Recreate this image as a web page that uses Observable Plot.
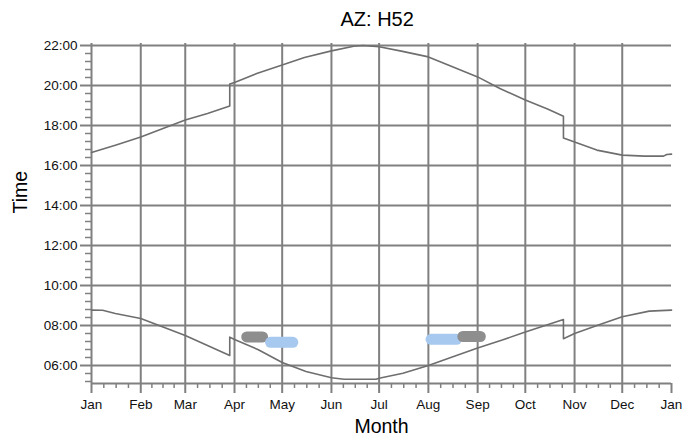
<!DOCTYPE html>
<html>
<head>
<meta charset="utf-8">
<script src="https://cdn.jsdelivr.net/npm/d3@7"></script>
<script src="https://cdn.jsdelivr.net/npm/@observablehq/plot@0.6"></script>
<style>
  html, body { margin: 0; padding: 0; background: #fff; }
  #chart svg { display: block; }
</style>
</head>
<body>
<div id="chart"></div>
<script>
// ---- data ----
const title = "AZ: H52";
const xLabel = "Month";
const yLabel = "Time";
const monthLabels = ["Jan","Feb","Mar","Apr","May","Jun","Jul","Aug","Sep","Oct","Nov","Dec","Jan"];
const monthStarts = ["2015-01-01","2015-02-01","2015-03-01","2015-04-01","2015-05-01","2015-06-01",
                     "2015-07-01","2015-08-01","2015-09-01","2015-10-01","2015-11-01","2015-12-01","2016-01-01"];
const hourTicks = [6, 8, 10, 12, 14, 16, 18, 20, 22];

const sunsetDates = ["2015-01-01","2015-01-16","2015-02-01","2015-02-15","2015-03-01","2015-03-15","2015-03-29","2015-03-29",
  "2015-04-01","2015-04-15","2015-05-01","2015-05-15","2015-06-01","2015-06-15","2015-06-21","2015-07-01","2015-07-15",
  "2015-08-01","2015-08-15","2015-09-01","2015-09-15","2015-10-01","2015-10-15","2015-10-25","2015-10-25","2015-11-01",
  "2015-11-15","2015-12-01","2015-12-15","2015-12-27","2015-12-29","2016-01-01"];
const sunsetTimes = [16.65,17.01,17.42,17.85,18.27,18.6,18.98,20.08,
  20.15,20.6,21.02,21.4,21.73,21.96,22.0,21.94,21.72,
  21.43,20.97,20.43,19.85,19.27,18.82,18.46,17.38,17.18,
  16.77,16.52,16.47,16.47,16.55,16.57];

const sunriseDates = ["2015-01-01","2015-01-08","2015-01-16","2015-02-01","2015-02-15","2015-03-01","2015-03-15","2015-03-29","2015-03-29",
  "2015-04-01","2015-04-16","2015-05-01","2015-05-16","2015-06-01","2015-06-09","2015-06-29","2015-07-01","2015-07-16",
  "2015-08-01","2015-08-16","2015-09-01","2015-09-16","2015-10-01","2015-10-25","2015-10-25","2015-11-01","2015-11-16",
  "2015-12-01","2015-12-18","2016-01-01"];
const sunriseTimes = [8.77,8.76,8.6,8.35,7.93,7.5,7.0,6.5,7.42,
  7.3,6.79,6.15,5.7,5.39,5.31,5.31,5.36,5.61,
  6.0,6.42,6.87,7.26,7.68,8.3,7.34,7.6,8.02,
  8.44,8.72,8.77];

const blobStart  = ["2015-04-09","2015-04-24","2015-08-03","2015-08-23"];
const blobEnd    = ["2015-04-19","2015-05-08","2015-08-19","2015-09-03"];
const blobTime   = [7.43, 7.16, 7.31, 7.45];
const blobSeries = ["A", "B", "B", "A"];

// ---- build tables ----
const parse = s => new Date(s + "T00:00:00Z");
const monthDates = monthStarts.map(parse);
const labelByTime = new Map(monthDates.map((d, i) => [+d, monthLabels[i]]));
const sunset = sunsetDates.map((d, i) => ({date: parse(d), time: sunsetTimes[i]}));
const sunrise = sunriseDates.map((d, i) => ({date: parse(d), time: sunriseTimes[i]}));
const blobs = blobStart.map((d, i) => ({start: parse(d), end: parse(blobEnd[i]), time: blobTime[i], series: blobSeries[i]}));

const x0 = monthDates[0], x1 = monthDates[12];
const yMin = 5.1, yMax = 22.1;

// minor ticks: quarter months on x, 24-minute steps on y
const minorX = [];
for (let i = 0; i < 12; i++) {
  const a = +monthDates[i], b = +monthDates[i + 1];
  for (let q = 1; q <= 3; q++) minorX.push(new Date(a + (b - a) * q / 4));
}
const minorY = [];
for (let k = 1; 22 - 0.4 * k > yMin; k++) if (k % 5 !== 0) minorY.push(22 - 0.4 * k);

const fmtHour = h => String(h).padStart(2, "0") + ":00";
const GRID = "#808080";

const chart = Plot.plot({
  width: 699,
  height: 439,
  marginTop: 43,
  marginBottom: 56,
  marginLeft: 91,
  marginRight: 28,
  style: {fontFamily: "'Liberation Sans', Arial, sans-serif", fontSize: "13.5px", color: "#000", background: "#fff", overflow: "visible"},
  x: {type: "utc", domain: [x0, x1]},
  y: {domain: [yMin, yMax]},
  color: {domain: ["A", "B"], range: ["#8e8e8e", "#a7c8ef"]},
  marks: [
    Plot.gridY(hourTicks, {stroke: GRID, strokeOpacity: 1, strokeWidth: 2}),
    Plot.gridX(monthDates.slice(1, 12), {stroke: GRID, strokeOpacity: 1, strokeWidth: 2}),
    Plot.ruleX([x0], {stroke: GRID, strokeWidth: 2}),
    Plot.ruleY([yMin], {stroke: GRID, strokeWidth: 2}),
    Plot.axisY(hourTicks, {tickSize: 11, tickPadding: 3, tickFormat: fmtHour, stroke: GRID, strokeWidth: 2, fill: "#111", fontSize: 13.5, label: null}),
    Plot.axisY(minorY, {tickSize: 6, stroke: GRID, strokeWidth: 1.5, fill: "none", label: null}),
    Plot.axisX(monthDates, {tickSize: 10, tickPadding: 6, tickFormat: d => labelByTime.get(+d), stroke: GRID, strokeWidth: 2, fill: "#111", fontSize: 13.5, label: null}),
    Plot.axisX(minorX, {tickSize: 5, stroke: GRID, strokeWidth: 1.5, fill: "none", label: null}),
    Plot.line(sunset, {x: "date", y: "time", stroke: "#6e6e6e", strokeWidth: 1.6}),
    Plot.line(sunrise, {x: "date", y: "time", stroke: "#6e6e6e", strokeWidth: 1.6}),
    Plot.ruleY(blobs, {y: "time", x1: "start", x2: "end", stroke: "series", strokeWidth: 11, strokeLinecap: "round"}),
    Plot.text([title], {frameAnchor: "top-left", lineAnchor: "middle", dx: 249, dy: -24, fontSize: 20, fill: "#000"}),
    Plot.text([xLabel], {frameAnchor: "bottom", lineAnchor: "middle", dy: 43, fontSize: 19.5, fill: "#000"}),
    Plot.text([yLabel], {frameAnchor: "left", lineAnchor: "middle", dx: -70.5, rotate: -90, fontSize: 19.5, fill: "#000"})
  ]
});
document.getElementById("chart").appendChild(chart);
</script>
</body>
</html>
